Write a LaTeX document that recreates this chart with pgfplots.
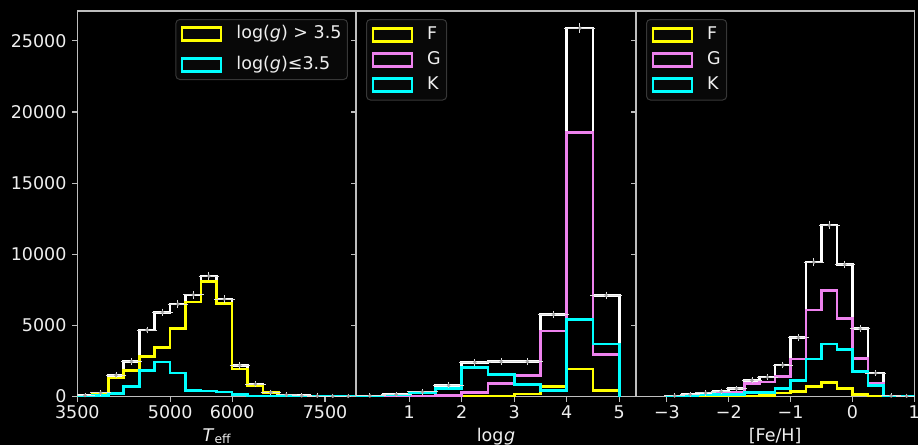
\documentclass[border=0pt]{standalone}
\usepackage{pgfplots}
\usepackage{pgfplotstable}
\pgfplotsset{compat=1.18}
\usepackage{fontspec}
\setmainfont{DejaVu Sans}

\definecolor{spine}{RGB}{190,190,190}
\definecolor{tickc}{RGB}{238,238,238}
\definecolor{yel}{RGB}{255,255,0}
\definecolor{cyn}{RGB}{0,255,255}
\definecolor{vio}{RGB}{238,130,238}
\definecolor{errc}{RGB}{225,225,225}
\definecolor{dotc}{RGB}{165,165,165}
\definecolor{legedge}{RGB}{55,55,55}
\definecolor{legfill}{RGB}{8,8,8}

\newcommand\fs{\fontsize{17.5}{21}\selectfont}

% Teff histogram: left edges, total (W), logg>3.5 (Y), logg<=3.5 (C)
\pgfplotstableread{
x W Y C
3500 0 0 0
3500 80 50 30
3750 260 190 60
4000 1500 1300 200
4250 2470 1840 720
4500 4680 2820 1840
4750 5930 3440 2420
5000 6500 4790 1650
5250 7150 6650 440
5500 8470 8100 390
5750 6850 6540 320
6000 2190 1930 140
6250 880 790 40
6500 300 300 10
6750 120 100 5
7000 60 50 5
7250 40 30 5
7500 30 20 5
7750 20 15 5
8000 20 15 5
8000 0 0 0
}\tA
\pgfplotstableread{
x y ex ey
3625 80 125 9
3875 260 125 16
4125 1500 125 39
4375 2470 125 50
4625 4680 125 68
4875 5930 125 77
5125 6500 125 81
5375 7150 125 85
5625 8470 125 92
5875 6850 125 83
6125 2190 125 47
6375 880 125 30
6625 300 125 17
6875 120 125 11
7125 60 125 8
7375 40 125 6
7625 30 125 5
7875 20 125 4
}\eA

% logg histogram: total (W), F, G, K
\pgfplotstableread{
x W F G K
0 0 0 0 0
0 50 0 0 30
0.5 140 0 0 100
1 330 0 50 280
1.5 790 0 90 580
2 2400 10 300 2050
2.5 2460 30 930 1540
3 2460 190 1470 840
3.5 5770 700 4610 440
4 25900 1930 18550 5400
4.5 7120 420 2980 3700
5 7120 420 2980 3700
5 0 0 0 0
}\tB
\pgfplotstableread{
x y ex ey
0.25 50 0.25 7
0.75 140 0.25 12
1.25 330 0.25 18
1.75 790 0.25 28
2.25 2400 0.25 49
2.75 2460 0.25 50
3.25 2460 0.25 50
3.75 5770 0.25 76
4.25 25900 0.25 161
4.75 7120 0.25 84
}\eB

% [Fe/H] histogram: total (W), F, G, K
\pgfplotstableread{
x W F G K
-3 0 0 0 0
-3 50 0 0 30
-2.75 140 0 20 60
-2.5 260 0 100 100
-2.25 370 0 200 150
-2 560 10 330 140
-1.75 1140 40 930 280
-1.5 1370 60 1020 280
-1.25 2210 260 1420 580
-1 4140 370 2630 1120
-0.75 9450 720 6100 2650
-0.5 12050 980 7450 3700
-0.25 9290 560 5470 3300
0 4770 140 2680 1770
0.25 1650 20 930 770
0.5 50 0 0 10
0.75 30 0 0 10
1 30 0 0 10
1 0 0 0 0
}\tC
\pgfplotstableread{
x y ex ey
-2.875 50 0.125 7
-2.625 140 0.125 12
-2.375 260 0.125 16
-2.125 370 0.125 19
-1.875 560 0.125 24
-1.625 1140 0.125 34
-1.375 1370 0.125 37
-1.125 2210 0.125 47
-0.875 4140 0.125 64
-0.625 9450 0.125 97
-0.375 12050 0.125 110
-0.125 9290 0.125 96
0.125 4770 0.125 69
0.375 1650 0.125 41
0.625 50 0.125 7
0.875 30 0.125 5
}\eC

\pgfplotsset{
  panel/.style={
    scale only axis, anchor=south west, height=385.6pt,
    ymin=0, ymax=27100,
    axis line style={spine, line width=1.1pt},
    tick style={spine, line width=1.1pt},
    major tick length=5pt, tick align=outside,
    xtick pos=left, ytick pos=left,
    ytick={0,5000,10000,15000,20000,25000},
    scaled y ticks=false, scaled x ticks=false,
    xticklabel style={text=tickc, font=\fs, inner sep=0pt, anchor=north, text height=12.8pt, text depth=0pt, yshift=-3.4pt},
    yticklabel style={text=tickc, font=\fs, inner sep=0pt, anchor=east, xshift=-5.6pt},
    xlabel style={text=tickc, font=\fs, inner sep=0pt, at={(axis description cs:0.5,0)}, anchor=north, text height=12.8pt, yshift=-31.4pt},
    legend style={font=\fs, text=tickc, fill=legfill, draw=legedge, line width=1pt, rounded corners=4pt,
      inner xsep=5pt, inner ysep=6pt, row sep=6.5pt, column sep=13pt,
      nodes={inner sep=1pt, text height=12.8pt, text depth=3.7pt}},
    legend cell align=left,
    legend image code/.code={\draw[##1, line width=2.6pt, rounded corners=0pt] (0pt,-6.5pt) rectangle (39pt,6.5pt);},
  },
  hist/.style={const plot, line width=2.6pt},
  errbars/.style={only marks, mark=*, mark size=1.6pt, mark options={draw=dotc, fill=dotc},
    error bars/.cd, x dir=both, x explicit, y dir=both, y explicit,
    error bar style={errc, line width=0.9pt},
    error mark options={errc, line width=0.9pt, mark size=2.5pt}},
}

\begin{document}
\begin{tikzpicture}
\path[use as bounding box, fill=black] (0,0) rectangle (918pt,445pt);

\begin{axis}[panel, at={(77.3pt,48.4pt)}, width=278.7pt,
  xmin=3500, xmax=8000,
  xtick={3500,5000,6000,7500}, xticklabels={3500,5000,6000,7500},
  yticklabels={0,5000,10000,15000,20000,25000},
  xlabel={\textit{T}\raisebox{-0.16em}{\fontsize{12.3}{14}\selectfont eff}},
  legend style={at={(1,1)}, anchor=north east, xshift=-8pt, yshift=-8pt, row sep=12pt, inner ysep=5.5pt}]
\addplot[white, hist, forget plot] table[x=x, y=W] {\tA};
\addplot[yel, hist] table[x=x, y=Y] {\tA};
\addplot[cyn, hist] table[x=x, y=C] {\tA};
\addplot[forget plot, errbars] table[x=x, y=y, x error=ex, y error=ey] {\eA};
\legend{log(\textit{g}) > 3.5, log(\textit{g})≤3.5}
\end{axis}

\begin{axis}[panel, at={(356pt,48.4pt)}, width=280pt,
  xmin=-0.015, xmax=5.32,
  xtick={1,2,3,4,5}, xticklabels={1,2,3,4,5},
  yticklabels={},
  xlabel={log\kern0.5pt\textit{g}},
  legend style={at={(0,1)}, anchor=north west, xshift=10pt, yshift=-8pt}]
\addplot[white, hist, forget plot] table[x=x, y=W] {\tB};
\addplot[yel, hist] table[x=x, y=F] {\tB};
\addplot[vio, hist] table[x=x, y=G] {\tB};
\addplot[cyn, hist] table[x=x, y=K] {\tB};
\addplot[forget plot, errbars] table[x=x, y=y, x error=ex, y error=ey] {\eB};
\legend{F, G, K}
\end{axis}

\begin{axis}[panel, at={(636pt,48.4pt)}, width=278.3pt,
  xmin=-3.5, xmax=1,
  xtick={-3,-2,-1,0,1}, xticklabels={−3,−2,−1,0,1},
  yticklabels={},
  xlabel={[Fe/H]},
  legend style={at={(0,1)}, anchor=north west, xshift=10pt, yshift=-8pt}]
\addplot[white, hist, forget plot] table[x=x, y=W] {\tC};
\addplot[yel, hist] table[x=x, y=F] {\tC};
\addplot[vio, hist] table[x=x, y=G] {\tC};
\addplot[cyn, hist] table[x=x, y=K] {\tC};
\addplot[forget plot, errbars] table[x=x, y=y, x error=ex, y error=ey] {\eC};
\legend{F, G, K}
\end{axis}
\end{tikzpicture}
\end{document}
